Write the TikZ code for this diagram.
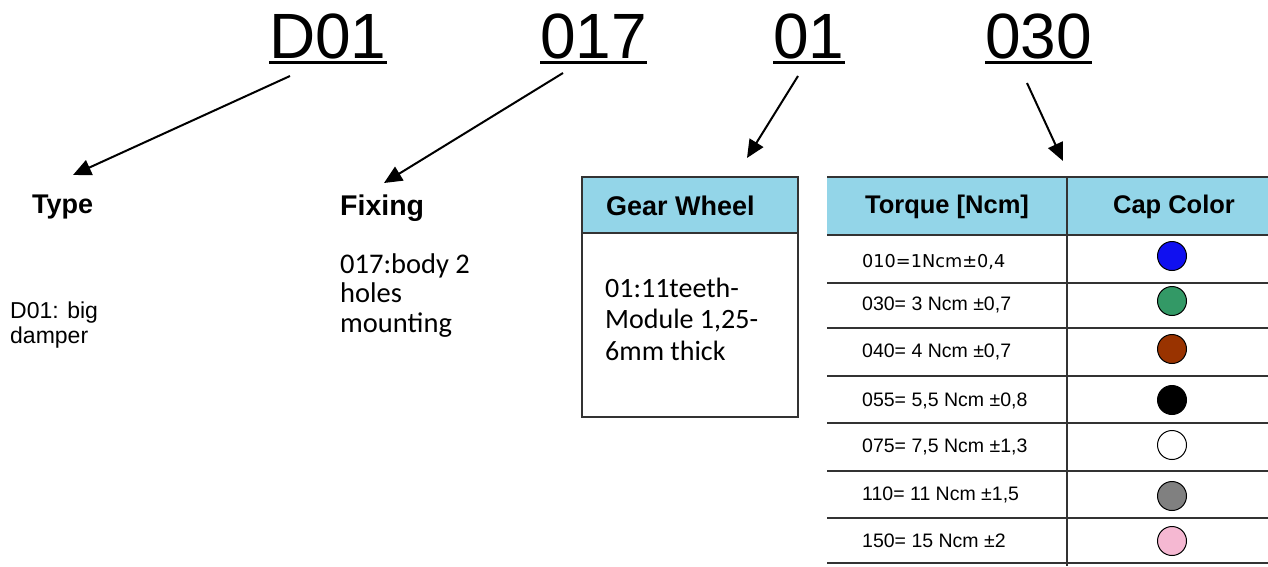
\documentclass[tikz,border=0pt]{standalone}
\usepackage{fontspec}
\setmainfont{Liberation Sans}
\newfontfamily\calfont{Carlito}
\newfontfamily\dejfont{DejaVu Sans}
\usetikzlibrary{arrows.meta}
\definecolor{hdrblue}{HTML}{93D5E8}
\definecolor{gridgray}{HTML}{333333}
\definecolor{capblue}{HTML}{1010F0}
\definecolor{capgreen}{HTML}{339966}
\definecolor{capbrown}{HTML}{993300}
\definecolor{capgray}{HTML}{808080}
\definecolor{cappink}{HTML}{F5B8D2}
\tikzset{
  code/.style={inner sep=0pt, anchor=base west, font=\fontsize{64}{70}\selectfont},
  uline/.style={line width=3pt},
  pointer/.style={line width=2pt, -{Triangle[length=18pt,width=16pt]}},
  title/.style={inner sep=0pt, anchor=base west, font=\bfseries\fontsize{27}{32}\selectfont},
  cellhead/.style={inner sep=0pt, anchor=base, font=\bfseries\fontsize{25.5}{30}\selectfont},
  rowtext/.style={inner sep=0pt, anchor=base west, font=\fontsize{19.5}{23}\selectfont},
  grid/.style={draw=gridgray, line width=1.4pt},
  capdot/.style={draw=black, line width=1pt, circle, minimum size=29pt, inner sep=0pt},
  para/.style={inner sep=0pt, anchor=base west, align=left}
}
\begin{document}
\begin{tikzpicture}[x=1pt,y=-1pt]
\useasboundingbox (0,0) rectangle (1268,566);
% codes
\node[code] (cD) at (269,58) {D01};
\node[code] (cF) at (540,58) {017};
\node[code] (cG) at (773,58) {01};
\node[code] (cT) at (985,58) {030};
\foreach \n in {cD,cF,cG,cT}
  \draw[uline] ([yshift=-4.5pt]\n.base west) -- ([yshift=-4.5pt]\n.base east);
% arrow ends
\coordinate (sD) at (290,76);  \coordinate (eD) at (73,175);
\coordinate (sF) at (563,73);  \coordinate (eF) at (384,183);
\coordinate (sG) at (798,76);  \coordinate (eG) at (747,158);
\coordinate (sT) at (1027,83); \coordinate (eT) at (1063,161);
\draw[pointer] (sD) -- (eD);
\draw[pointer] (sF) -- (eF);
\draw[pointer] (sG) -- (eG);
\draw[pointer] (sT) -- (eT);
% Type (base anchor = baseline of last line)
\node[title] (type) at (32,213) {Type};
\node[para, font=\fontsize{23}{25}\selectfont] (typetxt) at (10,343) {D01: big\\damper};
% Fixing
\node[title, font=\bfseries\fontsize{28.5}{32}\selectfont] (fix) at (340,215) {Fixing};
\node[para, font=\calfont\fontsize{28.5}{29.5}\selectfont] (fixtxt) at (340,332) {017:body 2\\holes\\mounting};
% Gear wheel box
\fill[hdrblue] (582,177) rectangle (798,233);
\draw[grid] (582,177) rectangle (798,417);
\draw[grid] (582,233) -- (798,233);
\node[title] (gear) at (606,215) {Gear Wheel};
\node[para, font=\calfont\fontsize{28}{31.5}\selectfont] (geartxt) at (605,360) {01:11teeth-\\Module 1,25-\\6mm thick};
% Torque table
\fill[hdrblue] (827,177) rectangle (1268,235);
\draw[grid] (827,177) -- (1268,177);
\foreach \y in {235,283,328,376,423,471,518,563}
  \draw[grid] (827,\y) -- (1268,\y);
\draw[grid] (1067,177) -- (1067,566);
\node[cellhead] (th1) at (947,213) {Torque [Ncm]};
\node[cellhead] (th2) at (1174,213) {Cap Color};
\node[rowtext, font=\dejfont\fontsize{17.7}{21}\selectfont] (r1) at (862,267) {010=1Ncm±0,4};
\node[rowtext] (r2) at (862,310) {030= 3 Ncm ±0,7};
\node[rowtext] (r3) at (862,357) {040= 4 Ncm ±0,7};
\node[rowtext] (r4) at (862,406) {055= 5,5 Ncm ±0,8};
\node[rowtext] (r5) at (862,452) {075= 7,5 Ncm ±1,3};
\node[rowtext] (r6) at (862,500) {110= 11 Ncm ±1,5};
\node[rowtext] (r7) at (862,547) {150= 15 Ncm ±2};
\node[capdot, fill=capblue]  (k1) at (1172,256) {};
\node[capdot, fill=capgreen] (k2) at (1172,301) {};
\node[capdot, fill=capbrown] (k3) at (1172,349) {};
\node[capdot, fill=black]    (k4) at (1172,400) {};
\node[capdot, fill=white]    (k5) at (1172,445) {};
\node[capdot, fill=capgray]  (k6) at (1172,496) {};
\node[capdot, fill=cappink]  (k7) at (1172,541) {};
\end{tikzpicture}
\end{document}
